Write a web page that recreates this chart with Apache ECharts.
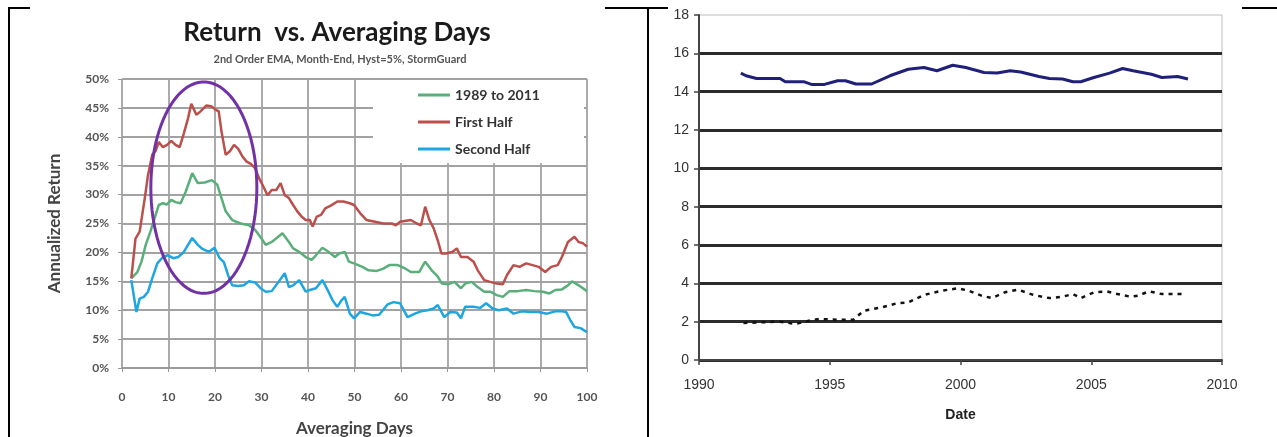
<!DOCTYPE html>
<html><head><meta charset="utf-8">
<script src="https://cdn.jsdelivr.net/npm/echarts@6/dist/echarts.min.js"></script>
<style>html,body{margin:0;padding:0;background:#fff}#c{width:1277px;height:437px}</style>
</head><body><div id="c"></div>
<script>
// ---------- Left chart data (Averaging Days vs Annualized Return %) ----------
const totalDays = [2,3.3,4.2,5.1,6.1,7.0,7.9,8.8,9.7,10.6,11.5,12.6,13.7,15.1,16.3,17.8,19.3,20.5,21.4,22.3,23.7,25.5,27.3,28.6,30.0,30.9,32.2,33.6,34.5,35.9,36.8,38.1,39.5,40.8,41.7,43.1,44.4,45.8,46.7,47.9,48.8,49.9,51.7,53.0,54.8,56.2,57.5,59.3,60.7,62.1,63.9,65.2,66.6,67.9,68.8,70.2,71.5,72.9,73.8,75.2,76.5,77.9,79.2,80.6,81.9,83.3,85.1,86.9,88.7,90.5,91.9,93.2,94.6,95.9,96.8,98.2,100];
const totalRet = [15.5,16.6,18.4,21.3,23.6,25.9,28.2,28.5,28.3,29.1,28.7,28.5,30.5,33.7,32.0,32.1,32.5,31.7,29.4,27.1,25.6,25.0,24.7,23.9,22.4,21.3,21.8,22.7,23.3,21.8,20.7,20.1,19.2,18.7,19.5,20.8,20.1,19.2,19.8,20.1,18.4,18.1,17.5,16.9,16.8,17.2,17.8,17.8,17.3,16.6,16.6,18.4,16.9,15.8,14.6,14.5,14.9,13.8,14.6,14.9,14.0,13.2,13.2,12.6,12.3,13.3,13.3,13.5,13.3,13.2,12.9,13.5,13.6,14.3,15.0,14.3,13.3];

const firstDays = [2,2.9,3.8,4.2,4.9,5.6,6.5,7.2,7.9,8.8,9.7,10.6,11.5,12.4,13.3,14.2,14.9,16.0,16.9,18.1,19.2,20.1,20.8,21.4,22.3,23.2,24.1,25.0,25.9,26.8,27.7,28.6,29.5,30.4,31.3,32.2,33.2,34.1,35.0,35.9,36.8,37.7,38.6,39.5,40.4,41.0,41.9,42.8,43.7,44.9,46.3,47.6,49.0,49.9,51.2,52.6,54.4,56.2,58.0,58.9,59.8,62.1,63.4,64.3,65.2,66.1,67.0,67.9,68.7,69.7,71.1,72.0,72.9,74.3,75.6,76.5,77.9,79.2,80.6,81.9,82.8,84.2,85.5,86.9,88.3,89.6,91.0,92.3,93.7,94.6,95.9,97.3,98.2,99.1,100];
const firstRet = [15.5,22.4,23.6,23.9,29.4,33.4,36.9,37.5,39.1,38.2,38.6,39.3,38.6,38.2,40.6,43.2,45.7,43.8,44.4,45.4,45.3,44.7,44.4,40.9,36.9,37.5,38.6,37.9,36.6,35.7,35.3,34.6,32.8,31.4,29.9,30.8,30.8,32.0,29.9,29.4,28.2,27.1,26.2,25.6,25.6,24.5,26.2,26.5,27.6,28.1,28.8,28.8,28.5,28.2,26.8,25.6,25.3,25.0,25.0,24.7,25.3,25.6,25.0,24.7,27.9,25.6,24.2,22.1,19.8,19.8,20.1,20.7,19.2,19.2,18.4,16.9,15.2,14.9,14.6,14.5,16.1,17.8,17.5,18.1,17.8,17.5,16.6,17.5,17.8,19.2,21.8,22.7,21.8,21.6,21.0];

const secondDays = [2,3.1,3.8,4.7,5.6,6.5,7.6,8.8,9.9,11.0,12.1,13.3,14.2,15.1,16.3,17.3,18.7,19.9,21.0,21.9,22.8,23.7,25.0,26.2,27.3,28.6,29.8,30.9,32.2,33.4,35.0,35.9,36.8,38.1,39.5,40.4,41.7,43.1,44.4,45.3,46.3,47.2,47.9,49.0,49.9,51.2,52.6,53.9,55.3,57.1,58.4,59.8,61.4,63.0,64.3,65.7,67.0,67.9,69.3,70.6,72.0,72.9,73.8,75.6,77.0,78.3,79.7,81.0,82.8,84.2,86.0,87.8,89.6,91.4,93.2,94.6,95.5,96.4,97.3,98.6,100];
const secondRet = [15.2,9.7,12.0,12.3,13.2,15.5,18.1,19.2,19.5,19.0,19.2,20.1,21.3,22.5,21.3,20.6,20.1,20.8,19.0,18.3,16.1,14.3,14.2,14.3,15.0,14.8,13.8,13.2,13.3,14.6,16.4,14.0,14.3,15.2,13.2,13.5,13.8,15.2,13.2,11.7,10.6,11.7,12.3,9.4,8.6,9.7,9.4,9.1,9.2,11.0,11.4,11.2,8.8,9.4,9.8,10.0,10.3,10.9,8.8,9.7,9.6,8.6,10.6,10.6,10.4,11.2,10.3,10.0,10.3,9.4,9.8,9.7,9.7,9.4,9.8,9.8,9.7,8.3,7.1,6.9,6.2];

const leftSeriesNames = ['1989 to 2011', 'First Half', 'Second Half'];
// highlighted region: [center day, center %, half-width days, half-height %]
const circleMark = [17.6, 31.2, 11.4, 18.3];

// ---------- Right chart data (Date) ----------
const solidYears = [1991.6,1991.8,1992.2,1993.1,1993.3,1994.0,1994.3,1994.8,1995.3,1995.6,1996.0,1996.6,1997.3,1998.0,1998.6,1999.1,1999.7,2000.2,2000.9,2001.4,2001.9,2002.3,2003.0,2003.4,2003.9,2004.3,2004.6,2005.1,2005.7,2006.2,2006.6,2007.3,2007.7,2008.3,2008.7];
const solidVals = [14.97,14.83,14.69,14.69,14.52,14.52,14.38,14.38,14.57,14.57,14.4,14.4,14.83,15.17,15.26,15.09,15.38,15.26,15.0,14.97,15.09,15.03,14.79,14.69,14.66,14.52,14.52,14.74,14.97,15.21,15.09,14.91,14.74,14.79,14.66];
const dashYears = [1991.7,1992.5,1993.1,1993.7,1994.2,1994.6,1995.3,1995.9,1996.3,1997.0,1997.6,1998.0,1998.6,1999.3,1999.9,2000.3,2000.8,2001.2,2001.7,2002.2,2002.8,2003.4,2003.9,2004.3,2004.6,2005.1,2005.6,2006.0,2006.5,2006.8,2007.2,2007.7,2008.5];
const dashVals = [1.93,1.97,2.0,1.88,2.05,2.14,2.1,2.1,2.57,2.75,2.97,3.0,3.39,3.62,3.74,3.62,3.36,3.23,3.53,3.67,3.39,3.23,3.3,3.44,3.23,3.53,3.58,3.44,3.3,3.36,3.58,3.44,3.44];

const zip = (a, b) => a.map((v, i) => [v, b[i]]);

const chart = echarts.init(document.getElementById('c'), null, {renderer: 'canvas'});
const LF = 'Lato, "Open Sans", sans-serif';
const RF = '"Liberation Sans", Arial, sans-serif';
const gridGray = '#a2a2a2';

const option = {
  animation: false,
  backgroundColor: '#fff',
  graphic: [
    {type: 'text', x: 337, y: 33, style: {text: 'Return  vs. Averaging Days', font: 'bold 26px ' + LF, fill: '#1a1a1a', align: 'center', verticalAlign: 'middle'}},
    {type: 'text', x: 340, y: 59, style: {text: '2nd Order EMA, Month-End, Hyst=5%, StormGuard', font: 'bold 11px ' + LF, fill: '#555', align: 'center', verticalAlign: 'middle'}},
    {type: 'line', shape: {x1: 9, y1: 8, x2: 30, y2: 8}, style: {stroke: '#000', lineWidth: 2}},
    {type: 'line', shape: {x1: 9, y1: 7, x2: 9, y2: 437}, style: {stroke: '#000', lineWidth: 2}},
    {type: 'line', shape: {x1: 605, y1: 8, x2: 668, y2: 8}, style: {stroke: '#000', lineWidth: 2}},
    {type: 'line', shape: {x1: 648, y1: 7, x2: 648, y2: 437}, style: {stroke: '#000', lineWidth: 2}},
    {type: 'line', shape: {x1: 1242, y1: 8, x2: 1277, y2: 8}, style: {stroke: '#000', lineWidth: 2}}
  ],
  legend: {
    data: leftSeriesNames,
    orient: 'vertical',
    left: 373, top: 80,
    padding: [8, 44, 7, 45],
    backgroundColor: '#fff',
    itemWidth: 32, itemHeight: 3, itemGap: 13,
    icon: 'rect',
    textStyle: {fontFamily: LF, fontWeight: 'bold', fontSize: 14, color: '#333'}
  },
  grid: [
    {left: 122, top: 79, width: 465, height: 289, outerBoundsMode: 'none'},
    {left: 699, top: 15, width: 523, height: 345, outerBoundsMode: 'none', show: true, borderColor: '#bdbdbd', borderWidth: 1}
  ],
  xAxis: [
    {type: 'value', gridIndex: 0, min: 0, max: 100, interval: 10,
     axisLine: {show: true, lineStyle: {color: '#999', width: 1.5}},
     axisTick: {show: true, length: 4, lineStyle: {color: '#999'}},
     splitLine: {show: true, lineStyle: {color: gridGray, width: 1.8}},
     axisLabel: {margin: 23, fontFamily: LF, fontWeight: 'bold', fontSize: 12, color: '#555'},
     name: 'Averaging Days', nameLocation: 'middle', nameGap: 52,
     nameTextStyle: {fontFamily: LF, fontWeight: 'bold', fontSize: 17, color: '#444'}},
    {type: 'value', gridIndex: 1, min: 1990, max: 2010, interval: 5,
     axisLine: {show: true, lineStyle: {color: '#444', width: 2}},
     axisTick: {show: true, length: 5, lineStyle: {color: '#444', width: 1.5}},
     splitLine: {show: false},
     axisLabel: {margin: 18, fontFamily: RF, fontSize: 14, color: '#333', formatter: v => String(v)},
     name: 'Date', nameLocation: 'middle', nameGap: 48,
     nameTextStyle: {fontFamily: RF, fontWeight: 'bold', fontSize: 14, color: '#222'}}
  ],
  yAxis: [
    {type: 'value', gridIndex: 0, min: 0, max: 50, interval: 5,
     axisLine: {show: false},
     axisTick: {show: true, length: 4, lineStyle: {color: '#999'}},
     splitLine: {show: true, lineStyle: {color: gridGray, width: 1.8}},
     axisLabel: {margin: 13, formatter: '{value}%', fontFamily: LF, fontWeight: 'bold', fontSize: 12, color: '#555'},
     name: 'Annualized Return', nameLocation: 'middle', nameGap: 59, nameRotate: 90,
     nameTextStyle: {fontFamily: LF, fontWeight: 'bold', fontSize: 17, color: '#444'}},
    {type: 'value', gridIndex: 1, min: 0, max: 18, interval: 2,
     axisLine: {show: true, lineStyle: {color: '#444', width: 2}},
     axisTick: {show: true, length: 5, lineStyle: {color: '#444', width: 1.5}},
     splitLine: {show: true, showMaxLine: false, lineStyle: {color: '#2b2b2b', width: 3}},
     axisLabel: {margin: 10, fontFamily: RF, fontSize: 14, color: '#333'}}
  ],
  series: [
    {name: leftSeriesNames[0], type: 'line', xAxisIndex: 0, yAxisIndex: 0, data: zip(totalDays, totalRet),
     symbol: 'none', lineStyle: {color: '#5aae7a', width: 2.5}, itemStyle: {color: '#5aae7a'}},
    {name: leftSeriesNames[1], type: 'line', xAxisIndex: 0, yAxisIndex: 0, data: zip(firstDays, firstRet),
     symbol: 'none', lineStyle: {color: '#bb4f4b', width: 2.5}, itemStyle: {color: '#bb4f4b'}},
    {name: leftSeriesNames[2], type: 'line', xAxisIndex: 0, yAxisIndex: 0, data: zip(secondDays, secondRet),
     symbol: 'none', lineStyle: {color: '#1ea6e0', width: 2.5}, itemStyle: {color: '#1ea6e0'}},
    {type: 'custom', xAxisIndex: 0, yAxisIndex: 0, data: [circleMark], clip: false, z: 5, silent: true,
     encode: {x: 0, y: 1},
     renderItem: function (params, api) {
       const c = api.coord([api.value(0), api.value(1)]);
       const s = api.size([api.value(2), api.value(3)]);
       const pts = [];
       for (let i = 0; i <= 90; i++) {
         const t = i / 90 * 2 * Math.PI;
         pts.push([c[0] + s[0] * Math.cos(t), c[1] - s[1] * Math.sin(t)]);
       }
       return {type: 'polygon', shape: {points: pts}, style: {fill: 'none', stroke: '#7232a6', lineWidth: 3}};
     }},
    {type: 'line', xAxisIndex: 1, yAxisIndex: 1, data: zip(solidYears, solidVals), symbol: 'none',
     lineStyle: {color: '#20207a', width: 3}},
    {type: 'line', xAxisIndex: 1, yAxisIndex: 1, data: zip(dashYears, dashVals), symbol: 'none',
     lineStyle: {color: '#111', width: 2.5, type: [4, 5]}}
  ]
};
chart.setOption(option);
</script>
</body></html>
